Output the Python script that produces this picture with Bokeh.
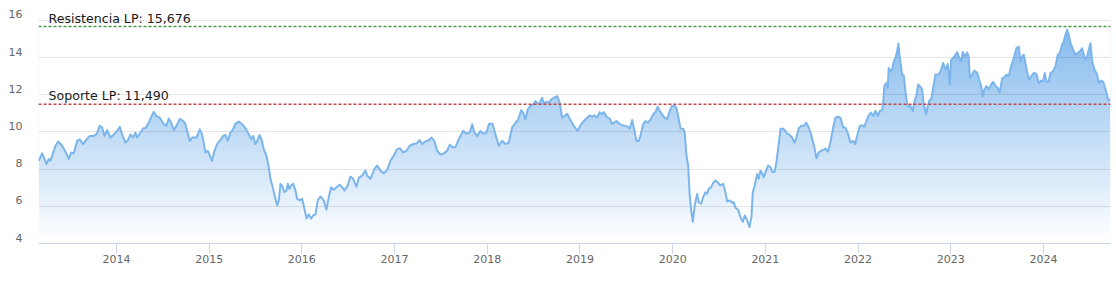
import numpy as np
from bokeh.plotting import figure
from bokeh.models import (Range1d, LinearAxis, FixedTicker, Grid, Span, Label,
                          ColumnDataSource)
from bokeh.embed import file_html
from bokeh.resources import INLINE

# ---------------- data (decimal years, price) ----------------
dates = [
    2013.162, 2013.198, 2013.245, 2013.270, 2013.288, 2013.342, 2013.371, 2013.414, 2013.450, 2013.485,
    2013.511, 2013.539, 2013.576, 2013.604, 2013.641, 2013.676, 2013.712, 2013.755, 2013.784, 2013.820,
    2013.846, 2013.871, 2013.900, 2013.935, 2013.971,
    2014.008, 2014.036, 2014.061, 2014.097, 2014.122, 2014.151, 2014.180, 2014.205, 2014.223, 2014.259,
    2014.288, 2014.313, 2014.348, 2014.402, 2014.431, 2014.467, 2014.510, 2014.539, 2014.564, 2014.590,
    2014.618, 2014.647, 2014.683, 2014.719, 2014.744, 2014.791, 2014.817, 2014.863, 2014.899, 2014.924,
    2014.960, 2014.985,
    2015.032, 2015.057, 2015.086, 2015.114, 2015.151, 2015.176, 2015.201, 2015.230, 2015.259, 2015.284,
    2015.319, 2015.356, 2015.392, 2015.427, 2015.453, 2015.475, 2015.499, 2015.518, 2015.543, 2015.564,
    2015.589, 2015.618, 2015.643, 2015.661, 2015.690, 2015.715, 2015.733, 2015.751, 2015.769, 2015.787,
    2015.812, 2015.834, 2015.848, 2015.866, 2015.884, 2015.906, 2015.931, 2015.949, 2015.977,
    2016.003, 2016.028, 2016.050, 2016.074, 2016.100, 2016.122, 2016.147, 2016.171, 2016.201, 2016.236,
    2016.265, 2016.290, 2016.316, 2016.344, 2016.373, 2016.409, 2016.435, 2016.459, 2016.489, 2016.524,
    2016.553, 2016.589, 2016.614, 2016.650, 2016.686, 2016.704, 2016.740, 2016.783, 2016.812, 2016.848,
    2016.883, 2016.920, 2016.956, 2016.991,
    2017.028, 2017.056, 2017.093, 2017.128, 2017.164, 2017.200, 2017.236, 2017.272, 2017.298, 2017.333,
    2017.369, 2017.398, 2017.430, 2017.459, 2017.495, 2017.531, 2017.567, 2017.595, 2017.632, 2017.657,
    2017.692, 2017.740, 2017.775, 2017.811, 2017.837, 2017.862, 2017.891, 2017.926, 2017.956, 2017.991,
    2018.020, 2018.056, 2018.088, 2018.124, 2018.161, 2018.196, 2018.232, 2018.268, 2018.304, 2018.329,
    2018.366, 2018.387, 2018.412, 2018.437, 2018.466, 2018.495, 2018.520, 2018.545, 2018.566, 2018.592,
    2018.609, 2018.638, 2018.663, 2018.689, 2018.717, 2018.754, 2018.782, 2018.808, 2018.833, 2018.862,
    2018.897, 2018.933, 2018.976,
    2019.005, 2019.041, 2019.077, 2019.105, 2019.131, 2019.156, 2019.185, 2019.213, 2019.239, 2019.257,
    2019.286, 2019.321, 2019.347, 2019.364, 2019.394, 2019.418, 2019.455, 2019.491, 2019.515, 2019.537,
    2019.563, 2019.588, 2019.609, 2019.634, 2019.652, 2019.682, 2019.706, 2019.731, 2019.760, 2019.789,
    2019.814, 2019.839, 2019.861, 2019.886, 2019.911, 2019.940, 2019.968, 2019.994,
    2020.019, 2020.041, 2020.066, 2020.084, 2020.113, 2020.130, 2020.149, 2020.167, 2020.184, 2020.202,
    2020.217, 2020.238, 2020.264, 2020.281, 2020.307, 2020.329, 2020.354, 2020.372, 2020.389, 2020.415,
    2020.437, 2020.461, 2020.486, 2020.515, 2020.544, 2020.569, 2020.588, 2020.616, 2020.642, 2020.659,
    2020.677, 2020.706, 2020.731, 2020.756, 2020.778, 2020.803, 2020.828, 2020.850, 2020.864, 2020.885,
    2020.911, 2020.928, 2020.947, 2020.965, 2020.982,
    2021.008, 2021.030, 2021.055, 2021.080, 2021.101, 2021.119, 2021.144, 2021.163, 2021.181, 2021.209,
    2021.235, 2021.260, 2021.289, 2021.314, 2021.335, 2021.360, 2021.389, 2021.414, 2021.440, 2021.468,
    2021.486, 2021.511, 2021.529, 2021.551, 2021.576, 2021.602, 2021.623, 2021.648, 2021.673, 2021.702,
    2021.731, 2021.756, 2021.781, 2021.810, 2021.839, 2021.864, 2021.889, 2021.918, 2021.947, 2021.968,
    2021.990,
    2022.018, 2022.044, 2022.069, 2022.090, 2022.115, 2022.141, 2022.163, 2022.187, 2022.212, 2022.234,
    2022.260, 2022.270, 2022.284, 2022.306, 2022.320, 2022.331, 2022.349, 2022.368, 2022.385, 2022.403,
    2022.421, 2022.435, 2022.449, 2022.475, 2022.493, 2022.511, 2022.529, 2022.547, 2022.565, 2022.590,
    2022.608, 2022.630, 2022.648, 2022.673, 2022.691, 2022.708, 2022.734, 2022.751, 2022.770, 2022.788,
    2022.810, 2022.835, 2022.870, 2022.889, 2022.918, 2022.943, 2022.967, 2022.989,
    2023.004, 2023.032, 2023.069, 2023.094, 2023.112, 2023.129, 2023.151, 2023.177, 2023.194, 2023.205,
    2023.231, 2023.255, 2023.285, 2023.309, 2023.328, 2023.345, 2023.363, 2023.385, 2023.410, 2023.436,
    2023.457, 2023.482, 2023.507, 2023.528, 2023.554, 2023.579, 2023.600, 2023.625, 2023.651, 2023.679,
    2023.708, 2023.733, 2023.751, 2023.770, 2023.787, 2023.816, 2023.841, 2023.867, 2023.895, 2023.924,
    2023.949, 2023.975, 2023.996,
    2024.014, 2024.032, 2024.057, 2024.075, 2024.104, 2024.129, 2024.154, 2024.175, 2024.201, 2024.219,
    2024.237, 2024.255, 2024.273, 2024.291, 2024.320, 2024.345, 2024.370, 2024.399, 2024.417, 2024.434,
    2024.453, 2024.471, 2024.488, 2024.507, 2024.525, 2024.550, 2024.579, 2024.596, 2024.622, 2024.644,
    2024.658, 2024.679, 2024.697, 2024.722,
]

prices = [
    8.45, 8.85, 8.28, 8.55, 8.45, 9.26, 9.49, 9.26, 8.94, 8.55,
    8.90, 8.85, 9.52, 9.60, 9.35, 9.60, 9.79, 9.79, 9.87, 10.33,
    10.24, 9.79, 10.10, 9.70, 9.87,
    10.06, 10.28, 9.87, 9.43, 9.55, 9.87, 9.70, 9.97, 9.70, 9.97,
    10.20, 10.20, 10.50, 11.09, 10.86, 10.77, 10.42, 10.33, 10.72, 10.50,
    10.10, 10.33, 10.70, 10.60, 10.42, 9.52, 9.70, 9.70, 10.14, 9.87,
    8.90, 8.99,
    8.45, 8.99, 9.35, 9.52, 9.79, 9.84, 9.52, 9.97, 10.15, 10.45,
    10.56, 10.42, 10.20, 9.88, 9.61, 9.79, 9.35, 9.52, 9.84, 9.61,
    9.08, 8.72, 8.10, 7.48, 6.94, 6.41, 6.05, 6.32, 7.21, 7.12,
    6.76, 6.85, 7.21, 6.94, 7.12, 7.21, 6.85, 6.41, 6.32,
    6.41, 5.87, 5.34, 5.57, 5.34, 5.51, 5.57, 6.32, 6.53, 6.32,
    5.82, 6.49, 7.03, 6.89, 7.03, 7.16, 7.03, 6.85, 7.06, 7.60,
    7.48, 7.06, 7.53, 7.65, 7.92, 7.65, 7.48, 8.01, 8.19, 7.92,
    7.78, 7.96, 8.45, 8.72,
    9.08, 9.13, 8.90, 8.99, 9.26, 9.35, 9.38, 9.56, 9.35, 9.49,
    9.56, 9.70, 9.52, 8.99, 8.78, 8.85, 8.99, 9.31, 9.17, 9.20,
    9.61, 10.06, 9.91, 9.97, 10.42, 9.97, 9.79, 10.06, 9.91, 9.97,
    10.45, 10.45, 9.88, 9.26, 9.52, 9.35, 9.43, 10.24, 10.50, 10.63,
    11.17, 11.04, 10.68, 11.22, 11.40, 11.49, 11.66, 11.52, 11.57, 11.84,
    11.52, 11.63, 11.57, 11.75, 11.84, 11.93, 11.57, 10.77, 10.86, 10.98,
    10.65, 10.33, 10.06,
    10.36, 10.59, 10.77, 10.90, 10.82, 10.90, 10.77, 11.07, 10.95, 11.07,
    10.82, 10.72, 10.42, 10.50, 10.59, 10.47, 10.36, 10.33, 10.29, 10.18,
    10.65, 10.06, 9.52, 9.52, 9.79, 10.42, 10.59, 10.50, 10.65, 10.95,
    11.07, 11.36, 11.13, 10.95, 10.77, 10.68, 11.13, 11.40,
    11.43, 11.30, 10.68, 10.18, 10.18, 9.97, 8.72, 8.19, 6.58, 5.69,
    5.16, 6.05, 6.67, 6.22, 6.14, 6.49, 6.76, 6.67, 6.94, 7.03,
    7.26, 7.39, 7.29, 7.12, 7.21, 6.76, 6.26, 6.32, 6.19, 6.22,
    5.93, 5.82, 5.42, 5.16, 5.51, 5.25, 4.89, 5.42, 6.76, 7.12,
    7.74, 7.48, 7.92, 7.78, 7.56,
    7.92, 8.19, 8.10, 7.83, 7.88, 8.36, 9.35, 10.15, 10.20, 10.10,
    9.91, 9.84, 9.70, 9.43, 9.70, 10.20, 10.33, 10.33, 10.50, 10.24,
    10.00, 9.52, 9.17, 8.58, 8.90, 8.99, 9.04, 9.11, 8.94, 9.43,
    10.24, 10.77, 10.82, 10.77, 10.24, 10.24, 9.94, 9.43, 9.52, 9.35,
    9.79,
    10.33, 10.36, 10.29, 10.59, 10.90, 11.04, 10.86, 11.13, 10.86, 11.13,
    11.18, 11.57, 12.50, 12.64, 12.37, 13.44, 13.27, 13.36, 13.80, 13.98,
    14.34, 14.75, 14.07, 13.09, 13.04, 12.20, 11.49, 11.36, 11.40, 11.13,
    11.66, 11.97, 12.56, 12.43, 12.29, 11.49, 10.95, 11.40, 11.70, 11.75,
    12.37, 13.09, 13.09, 13.27, 13.71, 13.36, 13.66, 12.56,
    13.89, 14.02, 14.30, 13.98, 13.80, 14.30, 14.07, 14.28, 14.02, 12.91,
    13.12, 13.30, 13.18, 12.77, 12.47, 11.93, 12.29, 12.47, 12.29, 12.56,
    12.70, 12.47, 12.37, 12.11, 12.88, 12.95, 13.09, 13.00, 13.53, 13.98,
    14.51, 14.60, 13.80, 14.07, 14.16, 13.44, 12.82, 13.00, 13.18, 13.12,
    12.64, 12.77, 12.73,
    13.18, 12.70, 12.73, 13.18, 13.27, 13.53, 14.16, 14.25, 14.70, 14.87,
    15.23, 15.50, 15.23, 14.78, 14.43, 14.16, 14.25, 14.37, 14.51, 14.16,
    13.89, 14.07, 14.43, 14.78, 13.80, 13.36, 13.09, 12.64, 12.77, 12.70,
    12.47, 12.11, 11.75, 11.71,
]

year_ticks = [2014, 2015, 2016, 2017, 2018, 2019, 2020, 2021, 2022, 2023, 2024]
year_labels = ["2014", "2015", "2016", "2017", "2018", "2019", "2020", "2021", "2022", "2023", "2024"]
y_ticks = [4, 6, 8, 10, 12, 14, 16]

resistance = 15.676
support = 11.490

# ---------------- figure ----------------
X0, X1 = 2013.159, 2024.723
Y0, Y1 = 4.0, 16.43
FRAME_H = 231

p = figure(width=1116, height=282, output_backend="svg", toolbar_location=None,
           x_range=Range1d(X0, X1), y_range=Range1d(Y0, Y1),
           y_axis_location=None,
           min_border_left=38, min_border_right=6, min_border_top=12, min_border_bottom=39)
p.outline_line_color = None
p.background_fill_color = "white"
p.border_fill_color = "white"
for g in p.grid:
    g.visible = False

# gradient fill under the curve (image + white mask above the curve)
vmax = max(prices)
n = 400
levels = np.linspace(Y0, vmax, n)
frac = (levels - Y0) / (vmax - Y0)
alpha = 0.92 * frac
base = np.array([124, 181, 236], dtype=float)
rgb = 255 - alpha[:, None] * (255 - base)
img = np.zeros((n, 1), dtype=np.uint32)
view = img.view(dtype=np.uint8).reshape((n, 1, 4))
view[:, 0, 0:3] = np.round(rgb).astype(np.uint8)
view[:, 0, 3] = 255
p.image_rgba(image=[img], x=dates[0], y=Y0, dw=dates[-1] - dates[0], dh=vmax - Y0,
             level="image")

src = ColumnDataSource(dict(x=dates, y=prices, top=[Y1 + 2] * len(dates)))
p.varea(x="x", y1="y", y2="top", source=src, fill_color="white", fill_alpha=1.0,
        level="image")

grid = Grid(dimension=1, ticker=FixedTicker(ticks=y_ticks),
            grid_line_color="black", grid_line_alpha=0.1, grid_line_width=1)
p.add_layout(grid)

p.line(x="x", y="y", source=src, line_color="#7cb5ec", line_width=2,
       line_join="round")

# support / resistance lines
p.add_layout(Span(location=resistance, dimension="width", line_color="#4a9a4a",
                  line_width=1.4, line_dash="3 2"))
p.add_layout(Span(location=support, dimension="width", line_color="#c44545",
                  line_width=1.4, line_dash="3 2"))

for lvl, name in [(resistance, "Resistencia LP"), (support, "Soporte LP")]:
    p.add_layout(Label(x=X0, y=lvl, x_offset=10, y_offset=8.5,
                       text=f"{name}: {lvl:.3f}".replace(".", ","),
                       text_font="DejaVu Sans", text_font_size="12.6px",
                       text_color="#1a1a1a", text_baseline="alphabetic"))

# x axis
xa = p.xaxis[0]
xa.ticker = FixedTicker(ticks=year_ticks)
xa.major_label_overrides = {t: s for t, s in zip(year_ticks, year_labels)}
xa.axis_line_color = "#ccd6eb"
xa.major_tick_line_color = "#ccd6eb"
xa.major_tick_out = 10
xa.major_tick_in = 0
xa.minor_tick_line_color = None
xa.major_label_standoff = 1
xa.major_label_text_color = "#666666"
xa.major_label_text_font = "DejaVu Sans"
xa.major_label_text_font_size = "11px"

# y axis labels (drawn slightly above their grid lines)
shift = 6.0 * (Y1 - Y0) / FRAME_H
p.extra_y_ranges = {"lbl": Range1d(Y0 - shift, Y1 - shift)}
ya = LinearAxis(y_range_name="lbl", ticker=FixedTicker(ticks=y_ticks),
                axis_line_color=None, major_tick_line_color=None,
                minor_tick_line_color=None, major_tick_out=0, major_tick_in=0,
                major_label_standoff=16, major_label_text_color="#666666",
                major_label_text_font="DejaVu Sans",
                major_label_text_font_size="11px")
p.add_layout(ya, "left")

open("out.html", "w").write(file_html(p, INLINE))
